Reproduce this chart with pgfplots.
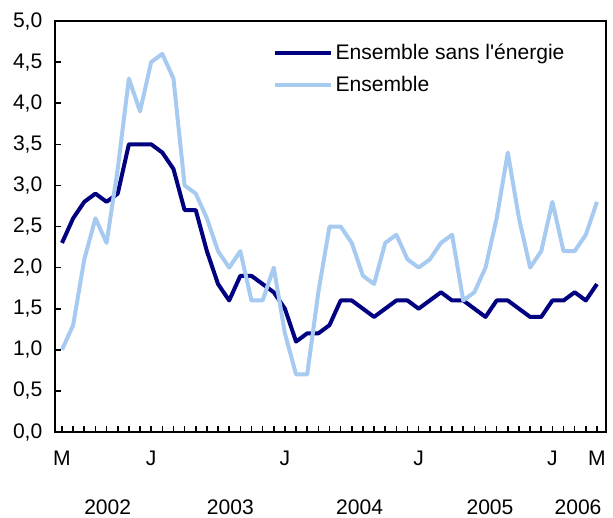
\documentclass[border=0pt]{standalone}
\usepackage{pgfplots}
\pgfplotsset{compat=1.18}
\usepackage{fontspec}
\setmainfont{Liberation Sans}
\definecolor{navyline}{HTML}{000080}
\definecolor{lightline}{HTML}{A6CAF0}
\begin{document}
\begin{tikzpicture}[font=\fontsize{15.8}{18}\selectfont]
\path[use as bounding box] (-41.25pt,-63.75pt) rectangle ++(459.75pt,387.75pt);
\begin{axis}[
  at={(0,0)}, anchor=south west,
  scale only axis,
  width=413.25pt, height=308.25pt,
  xmin=-0.628, xmax=48.81,
  ymin=0, ymax=5,
  ytick={0,0.5,...,5},
  xtick={0,8,20,32,44,48},
  xticklabels={M,J,J,J,J,M},
  minor xtick={0,...,48},
  xtick pos=bottom, ytick pos=left,
  tick align=inside,
  major tick length=4.5pt, minor tick length=4.5pt,
  tick style={black, line width=1.2pt},
  axis line style={black, line width=1.5pt},
  /pgf/number format/assume math mode=true,
  yticklabel style={/pgf/number format/fixed, /pgf/number format/fixed zerofill, /pgf/number format/precision=1, /pgf/number format/use comma, xshift=-6pt},
  xticklabel style={yshift=-10.5pt},
  extra x ticks={4.1,15.1,26.7,38.4,46.3},
  extra x tick labels={2002,2003,2004,2005,2006},
  extra x tick style={major tick length=0pt, tick style={draw=none}, xticklabel style={yshift=-36.5pt}},
  legend style={draw=none, fill=none, at={(rel axis cs:0.395,0.951)}, anchor=north west, row sep=7pt, inner sep=0pt},
  legend cell align=left,
  legend image code/.code={\draw[#1] (0pt,0pt) -- (42pt,0pt);},
]
\addplot[navyline, line width=3pt, line join=round] coordinates {
(0,2.3)(1,2.6)(2,2.8)(3,2.9)(4,2.8)(5,2.9)(6,3.5)(7,3.5)(8,3.5)(9,3.4)(10,3.2)(11,2.7)(12,2.7)(13,2.2)(14,1.8)(15,1.6)(16,1.9)(17,1.9)(18,1.8)(19,1.7)(20,1.5)(21,1.1)(22,1.2)(23,1.2)(24,1.3)(25,1.6)(26,1.6)(27,1.5)(28,1.4)(29,1.5)(30,1.6)(31,1.6)(32,1.5)(33,1.6)(34,1.7)(35,1.6)(36,1.6)(37,1.5)(38,1.4)(39,1.6)(40,1.6)(41,1.5)(42,1.4)(43,1.4)(44,1.6)(45,1.6)(46,1.7)(47,1.6)(48,1.8)
};
\addlegendentry{Ensemble sans l\textquotesingle énergie}
\addplot[lightline, line width=3pt, line join=round] coordinates {
(0,1.0)(1,1.3)(2,2.1)(3,2.6)(4,2.3)(5,3.2)(6,4.3)(7,3.9)(8,4.5)(9,4.6)(10,4.3)(11,3.0)(12,2.9)(13,2.6)(14,2.2)(15,2.0)(16,2.2)(17,1.6)(18,1.6)(19,2.0)(20,1.2)(21,0.7)(22,0.7)(23,1.7)(24,2.5)(25,2.5)(26,2.3)(27,1.9)(28,1.8)(29,2.3)(30,2.4)(31,2.1)(32,2.0)(33,2.1)(34,2.3)(35,2.4)(36,1.6)(37,1.7)(38,2.0)(39,2.6)(40,3.4)(41,2.6)(42,2.0)(43,2.2)(44,2.8)(45,2.2)(46,2.2)(47,2.4)(48,2.8)
};
\addlegendentry{Ensemble}
\end{axis}
\end{tikzpicture}
\end{document}
